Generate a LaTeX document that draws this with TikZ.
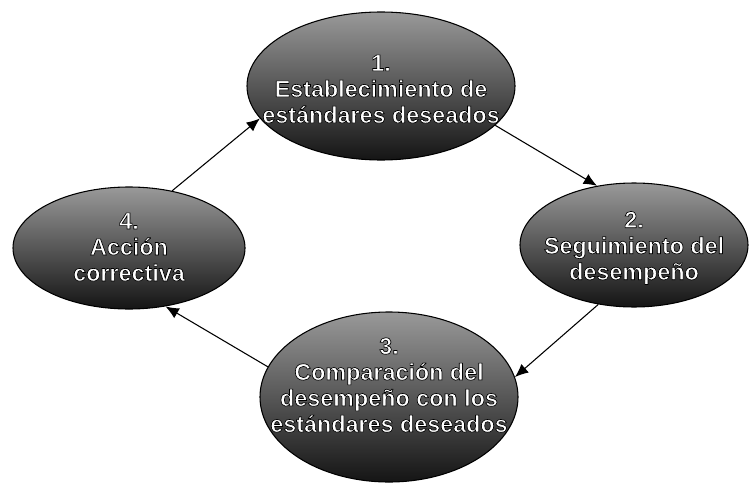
\documentclass[tikz,border=0pt]{standalone}
\usepackage{fontspec}
\setmainfont{Liberation Sans}
\usetikzlibrary{positioning, arrows.meta, shapes.geometric}

% white letters with a black outline (fill and stroke)
\newcommand{\outlon}{\special{pdf:bcolor [1] [0]}\special{pdf:code q 2 Tr 0.5 w}}
\newcommand{\outloff}{\special{pdf:code Q}\special{pdf:ecolor}}

\begin{document}
\begin{tikzpicture}[
      x=0.75pt, y=-0.75pt,
      node_stage/.style={ellipse, draw=black, line width=0.8pt, inner sep=0pt,
        top color=black!40, middle color=black!60, bottom color=black!92},
      node_text/.style={align=center, text=white, font=\fontsize{17.5}{19.5}\selectfont\bfseries},
      edge_path/.style={-{Latex[length=10pt, width=8.5pt]}, line width=0.8pt}
    ]
      \useasboundingbox (0,0) rectangle (749,485);

      \node[node_stage, minimum width=201pt, minimum height=111pt] (S1) at (381,86) {};
      \node[node_stage, minimum width=171pt, minimum height=93pt] (S2) at (634,245) {};
      \node[node_stage, minimum width=193.5pt, minimum height=127.5pt] (S3) at (389,397) {};
      \node[node_stage, minimum width=174pt, minimum height=91.5pt] (S4) at (129,248) {};

      \node[node_text] (T1) at (381,89) {\outlon 1.\\Establecimiento de\\estándares deseados\outloff};
      \node[node_text] (T2) at (634,248) {\outlon 2.\\Seguimiento del\\desempeño\outloff};
      \node[node_text] (T3) at (389,385) {\outlon 3.\\Comparación del\\desempeño con los\\estándares deseados\outloff};
      \node[node_text] (T4) at (129,247) {\outlon 4.\\Acción\\correctiva\outloff};

      \draw[edge_path] (S1.-19) to (S2.122);
      \draw[edge_path] (S2.239) to (S3.9);
      \draw[edge_path] (S3.166) to (S4.-58);
      \draw[edge_path] (S4.53) to (S1.195);
\end{tikzpicture}
\end{document}
